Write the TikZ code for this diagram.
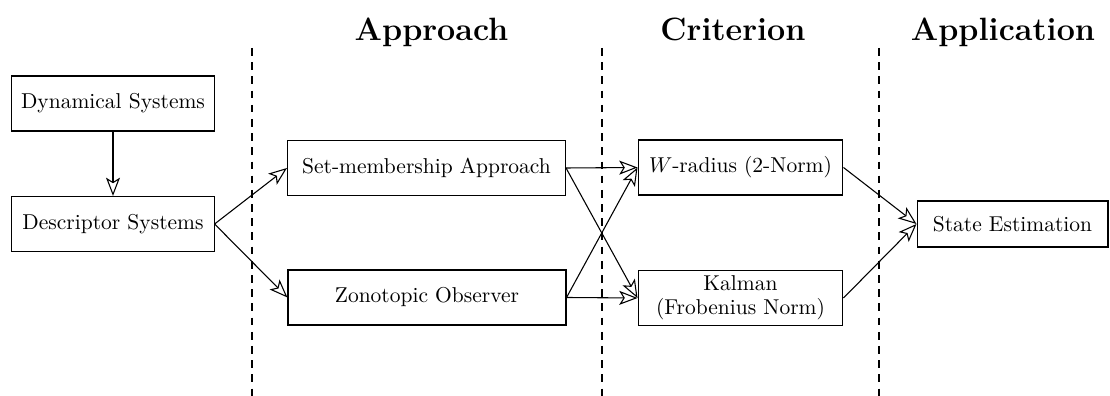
\documentclass[tikz,border=0pt]{standalone}
\usetikzlibrary{arrows.meta}
\begin{document}
\begin{tikzpicture}[x=0.4651pt,y=-0.4651pt,
  box/.style={draw, line width=0.5pt, minimum height=25.6pt, align=center, inner sep=2pt},
  arr/.style={-{Stealth[open,length=8.5pt,width=6.5pt,inset=2pt]}, line width=0.5pt},
  sepline/.style={dash pattern=on 3.6pt off 3pt, line width=0.8pt},
  heading/.style={font=\fontsize{15}{18}\selectfont\bfseries, anchor=base}]
\useasboundingbox (0,0) rectangle (1110,396);
% headings
\node[heading] (h1) at (431.5,41) {Approach};
\node[heading] (h2) at (733,41) {Criterion};
\node[heading] (h3) at (1003,41) {Application};
% dashed separators
\coordinate (s1t) at (252,48); \coordinate (s1b) at (252,396);
\coordinate (s2t) at (602,48); \coordinate (s2b) at (602,396);
\coordinate (s3t) at (879,48); \coordinate (s3b) at (879,396);
\draw[sepline] (s1t) -- (s1b);
\draw[sepline] (s2t) -- (s2b);
\draw[sepline] (s3t) -- (s3b);
% nodes
\node[box, minimum width=94pt] (dyn) at (113,103.5) {Dynamical Systems};
\node[box, minimum width=94pt] (des) at (113,224) {Descriptor Systems};
\node[box, minimum width=129.3pt] (set) at (426.5,168) {Set-membership Approach};
\node[box, minimum width=129.3pt] (zon) at (427,297.5) {Zonotopic Observer};
\node[box, minimum width=95.3pt] (wr) at (740.5,167.5) {$W$-radius (2-Norm)};
\node[box, minimum width=95.3pt] (kal) at (740.5,298) {Kalman\\[-1pt](Frobenius Norm)};
\node[box, minimum width=88.8pt, minimum height=21.4pt] (se) at (1012.5,224) {State Estimation};
% arrows
\draw[arr] (dyn) -- (des);
\draw[arr] (des.east) -- (set.west);
\draw[arr] (des.east) -- (zon.west);
\draw[arr] (set.east) -- (wr.west);
\draw[arr] (set.east) -- (kal.west);
\draw[arr] (zon.east) -- (wr.west);
\draw[arr] (zon.east) -- (kal.west);
\draw[arr] (wr.east) -- (se.west);
\draw[arr] (kal.east) -- (se.west);
\end{tikzpicture}
\end{document}
